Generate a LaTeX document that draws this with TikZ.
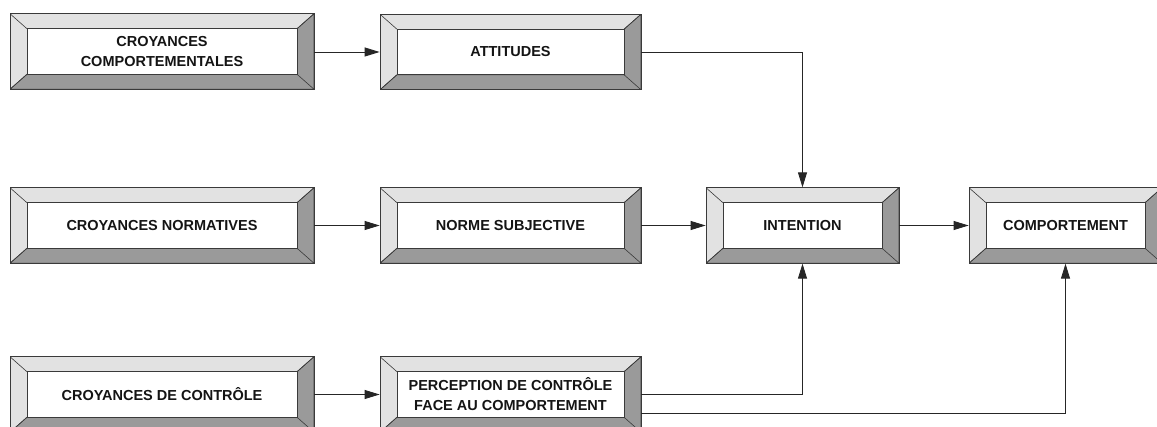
\documentclass[tikz,border=0pt]{standalone}
\usepackage{fontspec}
\setmainfont{Liberation Sans}
\usetikzlibrary{arrows.meta,calc}
\definecolor{lightbev}{HTML}{E2E2E2}
\definecolor{darkbev}{HTML}{9A9A9A}
\definecolor{edge}{HTML}{3A3A3A}
\definecolor{ink}{HTML}{141414}
\tikzset{
  bevelbox/.style={draw=edge, line width=0.8pt, fill=lightbev, inner sep=0pt,
    minimum height=75.5pt, align=center, text=ink,
    font=\bfseries\fontsize{14.5}{20}\selectfont,
    path picture={
      \coordinate (sw) at (path picture bounding box.south west);
      \coordinate (ne) at (path picture bounding box.north east);
      \coordinate (se) at (path picture bounding box.south east);
      \coordinate (nw) at (path picture bounding box.north west);
      \coordinate (isw) at ($(sw)+(17pt,15pt)$);
      \coordinate (ine) at ($(ne)+(-17pt,-15pt)$);
      \coordinate (ise) at ($(se)+(-17pt,15pt)$);
      \coordinate (inw) at ($(nw)+(17pt,-15pt)$);
      \filldraw[fill=darkbev, draw=edge, line width=0.6pt]
        (ne) -- (se) -- (sw) -- (isw) -- (ise) -- (ine) -- cycle;
      \filldraw[fill=white, draw=edge, line width=0.8pt] (isw) rectangle (ine);
      \draw[edge, line width=0.6pt] (sw) -- (isw) (se) -- (ise) (ne) -- (ine) (nw) -- (inw);
    }},
  col1/.style={minimum width=304pt},
  col2/.style={minimum width=261pt},
  col3/.style={minimum width=193pt},
  link/.style={draw=black!85, line width=0.9pt, -{Triangle[length=15pt,width=9pt]}}
}
\begin{document}
\begin{tikzpicture}[x=1pt,y=-1pt]
\path[use as bounding box, clip] (0,0) rectangle (1157,427);
\fill[white] (0,0) rectangle (1157,427);
\node[bevelbox, col1] (cc) at (162,51.5) {CROYANCES\\COMPORTEMENTALES};
\node[bevelbox, col2] (att) at (510.5,52) {ATTITUDES};
\node[bevelbox, col1] (cn) at (162,225.5) {CROYANCES NORMATIVES};
\node[bevelbox, col2] (ns) at (510.5,225.5) {NORME SUBJECTIVE};
\node[bevelbox, col3] (int) at (802.5,225.5) {INTENTION};
\node[bevelbox, col3] (comp) at (1065.5,225.5) {COMPORTEMENT};
\node[bevelbox, col1] (cdc) at (162,394.5) {CROYANCES DE CONTRÔLE};
\node[bevelbox, col2] (pc) at (510.5,394.5) {PERCEPTION DE CONTRÔLE\\FACE AU COMPORTEMENT};
\draw[link] (cc.east |- att.east) -- (att.west);
\draw[link] (att.east) -| (int.north);
\draw[link] (cn.east) -- (ns.west);
\draw[link] (ns.east) -- (int.west);
\draw[link] (int.east) -- (comp.west);
\draw[link] (cdc.east) -- (pc.west);
\draw[link] (pc.east) -| (int.south);
\draw[link] ([yshift=-18.5pt]pc.east) -| (comp.south);
\end{tikzpicture}
\end{document}
